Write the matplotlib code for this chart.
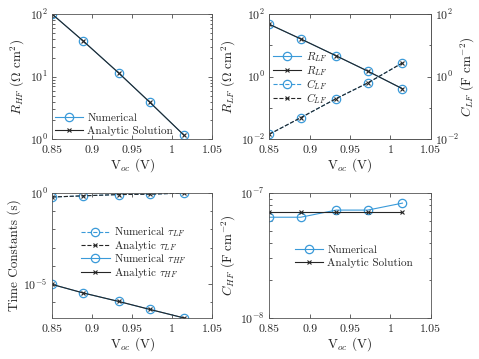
import matplotlib
matplotlib.use("Agg")
import matplotlib.pyplot as plt
from matplotlib.ticker import FixedLocator, FuncFormatter, LogLocator, NullFormatter

plt.rcParams["font.family"] = "cmr10"
plt.rcParams["mathtext.fontset"] = "cm"
plt.rcParams["axes.formatter.use_mathtext"] = True
plt.rcParams["axes.unicode_minus"] = False

# data
voc = [0.85, 0.889, 0.933, 0.972, 1.015]
r_hf_num = [100, 37, 11.5, 3.9, 1.15]
r_hf_ana = [100, 37, 11.5, 3.9, 1.15]
r_lf_num = [47, 16, 4.6, 1.5, 0.41]
r_lf_ana = [47, 16, 4.6, 1.5, 0.41]
c_lf_num = [0.0145, 0.049, 0.2, 0.63, 2.75]
c_lf_ana = [0.0145, 0.049, 0.2, 0.63, 2.75]
tau_lf_num = [0.6, 0.7, 0.82, 0.86, 1.0]
tau_lf_ana = [0.6, 0.7, 0.82, 0.86, 1.0]
tau_hf_num = [9.5e-6, 3.2e-6, 1.1e-6, 4.0e-7, 1.35e-7]
tau_hf_ana = [9.5e-6, 3.2e-6, 1.1e-6, 4.0e-7, 1.35e-7]
c_hf_num = [6.4e-8, 6.4e-8, 7.3e-8, 7.3e-8, 8.3e-8]
c_hf_ana = [7.1e-8, 7.1e-8, 7.1e-8, 7.1e-8, 7.1e-8]

xticks = [0.85, 0.9, 0.95, 1.0, 1.05]

BLUE = "#3a9ad9"
DARK = "#262626"
GRAY = "#262626"

num_kw = dict(color=BLUE, marker="o", markersize=6, markerfacecolor="none",
              markeredgecolor=BLUE, markeredgewidth=0.9, linewidth=0.8)
ana_kw = dict(color=DARK, marker="x", markersize=3.5, markeredgewidth=0.8, linewidth=0.8)

fig = plt.figure(figsize=(4.79, 3.59), dpi=100)
ax1 = fig.add_axes([0.1086, 0.612, 0.3347, 0.349])
ax2 = fig.add_axes([0.5622, 0.612, 0.337, 0.349])
ax3 = fig.add_axes([0.1086, 0.1142, 0.3347, 0.3482])
ax4 = fig.add_axes([0.5622, 0.1142, 0.337, 0.3482])


def style(ax, right=True):
    ax.set_xlim(0.85, 1.05)
    ax.set_xticks(xticks)
    ax.xaxis.set_major_formatter(FuncFormatter(lambda v, p: "%g" % round(v, 2)))
    ax.tick_params(which="both", direction="in", colors=GRAY, labelsize=8.5,
                   top=True, right=right, width=0.5)
    ax.tick_params(which="major", length=3)
    ax.tick_params(which="minor", length=1.8)
    ax.tick_params(axis="x", pad=4.5)
    ax.tick_params(axis="y", pad=3)
    for s in ax.spines.values():
        s.set_color("#555555")
        s.set_linewidth(0.6)
    ax.set_xlabel(r"V$_{oc}$ (V)", fontsize=9.5, color=GRAY, labelpad=1)


def legend(ax, handles, labels, x, y, hl=2.5, sp=0.25):
    ax.legend(handles, labels, loc="upper left", bbox_to_anchor=(x, y),
              frameon=False, fontsize=8, handlelength=hl, handletextpad=0.4,
              labelspacing=sp, borderpad=0, borderaxespad=0, labelcolor=GRAY)


# panel 1: R_HF
style(ax1)
l1, = ax1.semilogy(voc, r_hf_num, **num_kw)
l2, = ax1.semilogy(voc, r_hf_ana, **ana_kw)
ax1.set_ylim(1, 100)
ax1.yaxis.set_minor_locator(LogLocator(base=10, subs=range(2, 10)))
ax1.yaxis.set_minor_formatter(NullFormatter())
ax1.set_ylabel(r"$R_{HF}$ $(\Omega\ \mathrm{cm}^2)$", fontsize=9.5, color=GRAY, labelpad=2)
legend(ax1, [l1, l2], ["Numerical", "Analytic Solution"], 0.02, 0.21)

# panel 2: R_LF (left) and C_LF (right)
style(ax2, right=False)
ax2r = ax2.twinx()
a, = ax2.semilogy(voc, r_lf_num, **num_kw)
b, = ax2.semilogy(voc, r_lf_ana, **ana_kw)
c, = ax2r.semilogy(voc, c_lf_num, linestyle="--", **num_kw)
d, = ax2r.semilogy(voc, c_lf_ana, linestyle="--", **ana_kw)
for ax in (ax2, ax2r):
    ax.set_ylim(1e-2, 1e2)
    ax.yaxis.set_major_locator(FixedLocator([1e-2, 1e0, 1e2]))
    ax.yaxis.set_minor_locator(LogLocator(base=10, subs=[1.0]))
    ax.yaxis.set_minor_formatter(NullFormatter())
ax2r.tick_params(which="both", direction="in", colors=GRAY, labelsize=8.5, width=0.5, pad=3)
ax2r.tick_params(which="major", length=3)
ax2r.tick_params(which="minor", length=1.8)
for s in ax2r.spines.values():
    s.set_color("#555555")
    s.set_linewidth(0.6)
ax2.set_ylabel(r"$R_{LF}$ $(\Omega\ \mathrm{cm}^2)$", fontsize=9.5, color=GRAY, labelpad=2)
ax2r.set_ylabel(r"$C_{LF}$ $(\mathrm{F\ cm}^{-2})$", fontsize=9.5, color=GRAY, labelpad=0)
legend(ax2r, [a, b, c, d], [r"$R_{LF}$", r"$R_{LF}$", r"$C_{LF}$", r"$C_{LF}$"],
       0.02, 0.71, hl=2.6, sp=-0.05)

# panel 3: time constants
style(ax3)
e, = ax3.semilogy(voc, tau_lf_num, linestyle="--", **num_kw)
f, = ax3.semilogy(voc, tau_lf_ana, linestyle="--", **ana_kw)
g, = ax3.semilogy(voc, tau_hf_num, **num_kw)
h, = ax3.semilogy(voc, tau_hf_ana, **ana_kw)
ax3.set_ylim(min(tau_hf_num), max(tau_lf_num))
ax3.yaxis.set_major_locator(FixedLocator([1e-5, 1e0]))
ax3.yaxis.set_minor_locator(LogLocator(base=10, subs=[1.0], numticks=20))
ax3.yaxis.set_minor_formatter(NullFormatter())
ax3.set_ylabel("Time Constants (s)", fontsize=9.5, color=GRAY, labelpad=2)
legend(ax3, [e, f, g, h],
       [r"Numerical $\tau_{LF}$", r"Analytic $\tau_{LF}$",
        r"Numerical $\tau_{HF}$", r"Analytic $\tau_{HF}$"], 0.18, 0.74, hl=2.6, sp=-0.05)

# panel 4: C_HF
style(ax4)
i, = ax4.semilogy(voc, c_hf_num, **num_kw)
j, = ax4.semilogy(voc, c_hf_ana, **ana_kw)
ax4.set_ylim(1e-8, 1e-7)
ax4.yaxis.set_major_locator(FixedLocator([1e-8, 1e-7]))
ax4.yaxis.set_minor_locator(LogLocator(base=10, subs=range(2, 10)))
ax4.yaxis.set_minor_formatter(NullFormatter())
ax4.set_ylabel(r"$C_{HF}$ $(\mathrm{F\ cm}^{-2})$", fontsize=9.5, color=GRAY, labelpad=2)
legend(ax4, [i, j], ["Numerical", "Analytic Solution"], 0.16, 0.58)

fig.savefig("out.png", dpi=100)
